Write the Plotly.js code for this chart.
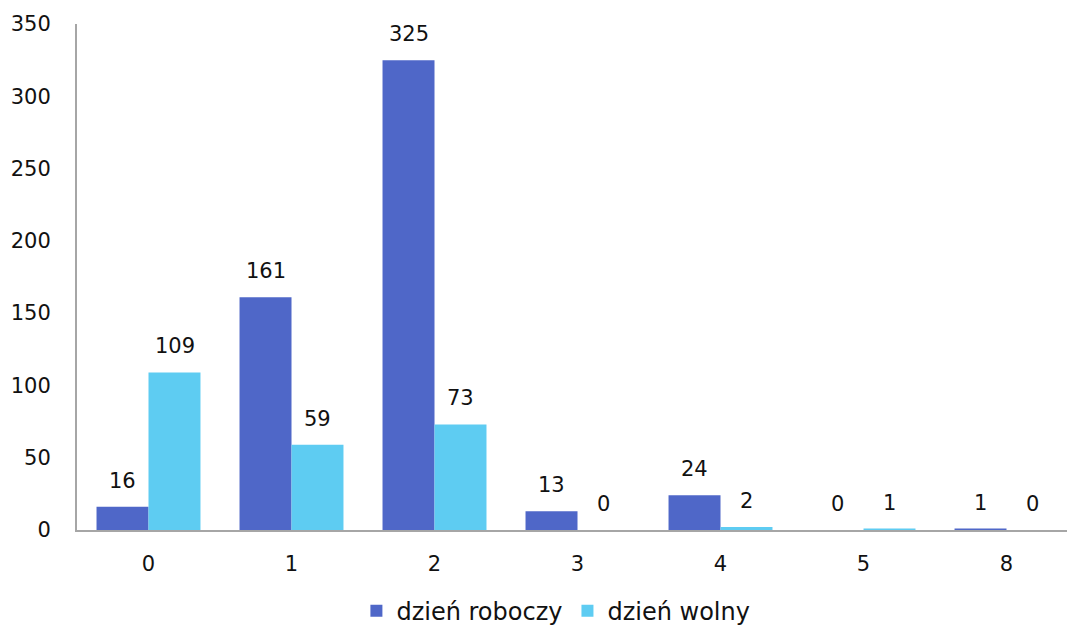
<!DOCTYPE html>
<html>
<head>
<meta charset="utf-8">
<script src="https://cdn.plot.ly/plotly-3.0.1.min.js"></script>
<style>
  html, body { margin: 0; padding: 0; background: #fff; }
  #chart { width: 1067px; height: 630px; }
</style>
</head>
<body>
<div id="chart"></div>
<script>
// Liczba wyjazdów w ciągu dnia: dni robocze i dni wolne
const categories = ['0', '1', '2', '3', '4', '5', '8'];
const roboczy = [16, 161, 325, 13, 24, 0, 1];
const wolny = [109, 59, 73, 0, 2, 1, 0];

const seriesNames = ['dzień roboczy', 'dzień wolny'];
const colors = ['#4F67C8', '#5ECCF2'];
const FONT = 'DejaVu Sans, Tahoma, Verdana, sans-serif';

const traces = [roboczy, wolny].map((vals, i) => ({
  type: 'bar',
  name: seriesNames[i],
  x: categories,
  y: vals,
  marker: { color: colors[i], line: { width: 0 } },
  hoverinfo: 'skip'
}));

// value labels above each bar, shifted to its half of the group
// (x given as category index so numeric-looking names are not misread)
const barShift = 26;
const annotations = [];
[roboczy, wolny].forEach((vals, i) => {
  vals.forEach((v, j) => {
    annotations.push({
      x: j, y: v, xref: 'x', yref: 'y',
      text: String(v), showarrow: false,
      xshift: i === 0 ? -barShift : barShift,
      yanchor: 'bottom', yshift: 12,
      font: { family: FONT, size: 21, color: '#111' }
    });
  });
});

const layout = {
  width: 1067, height: 630,
  margin: { l: 77, r: 0, t: 24, b: 100 },
  paper_bgcolor: '#fff', plot_bgcolor: '#fff',
  barmode: 'group',
  bargap: 0.273, bargroupgap: 0,
  font: { family: FONT, size: 21, color: '#111' },
  xaxis: {
    type: 'category',
    range: [-0.5, 6.423],
    automargin: false,
    showgrid: false, zeroline: false,
    showline: true, linecolor: '#A6A6A6', linewidth: 2,
    ticks: '', ticklabelstandoff: 14,
    tickfont: { family: FONT, size: 21, color: '#111' }
  },
  yaxis: {
    range: [0, 350],
    automargin: false,
    tickvals: [0, 50, 100, 150, 200, 250, 300, 350],
    showgrid: false, zeroline: false,
    showline: true, linecolor: '#A6A6A6', linewidth: 2,
    ticks: '', ticklabelstandoff: 20,
    tickfont: { family: FONT, size: 21, color: '#111' }
  },
  showlegend: true,
  legend: {
    orientation: 'h',
    xref: 'container', yref: 'container',
    x: 0.521, xanchor: 'center',
    y: 0.03, yanchor: 'middle',
    font: { family: FONT, size: 24, color: '#111' },
    itemwidth: 30,
    tracegroupgap: 0
  },
  annotations: annotations
};

Plotly.newPlot('chart', traces, layout, { displayModeBar: false, staticPlot: true });
</script>
</body>
</html>
